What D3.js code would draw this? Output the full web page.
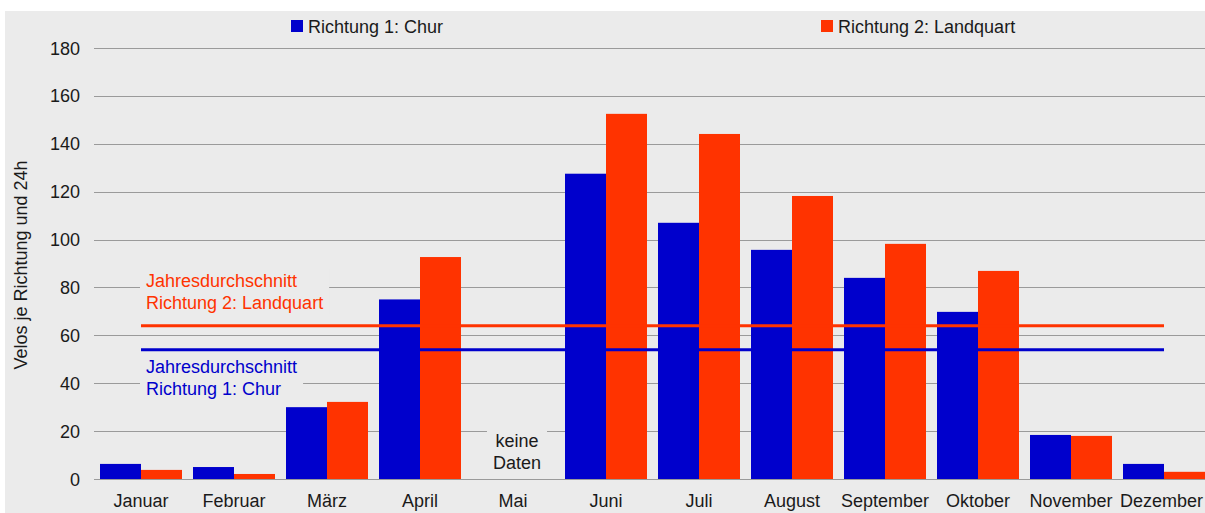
<!DOCTYPE html>
<html>
<head>
<meta charset="utf-8">
<script src="https://cdn.jsdelivr.net/npm/d3@7"></script>
<style>
	body { margin: 0; background: #fff; }
	text { font-family: 'Liberation Sans', Arial, sans-serif; font-size: 18px; }
</style>
</head>
<body>
<div id="wrapper"></div>
<script>
// Data
const months = ['Januar', 'Februar', 'März', 'April', 'Mai', 'Juni', 'Juli',
	'August', 'September', 'Oktober', 'November', 'Dezember']
const churValues = [6.3, 5, 30, 75, null, 127.5, 107, 95.7, 84, 69.8, 18.4, 6.3]
const landquartValues = [3.8, 2.1, 32.2, 92.7, null, 152.5, 144.1, 118.2, 98.2, 86.9, 18, 3]
const seriesNames = ['Richtung 1: Chur', 'Richtung 2: Landquart']
const averages = [54, 64]
const yTicks = [0, 20, 40, 60, 80, 100, 120, 140, 160, 180]

function drawChart() {
	const colors = ['#0000cc', '#ff3300']

	const dimensions = {
		width: 1205,
		height: 513,
		plotLeft: 94.5,
		plotRight: 1210.5,
		plotTop: 48,
		plotBottom: 479
	}

	const svg = d3.select('#wrapper')
		.append('svg')
			.attr('width', dimensions.width)
			.attr('height', dimensions.height)

	// grey panel
	svg.append('rect')
		.attr('x', 5)
		.attr('y', 11)
		.attr('width', dimensions.width - 5)
		.attr('height', dimensions.height - 11)
		.attr('fill', '#ebebeb')

	// Scales
	const yScale = d3.scaleLinear()
		.domain([0, 180])
		.range([dimensions.plotBottom, dimensions.plotTop])

	const xScale = d3.scaleBand()
		.domain(months)
		.range([dimensions.plotLeft, dimensions.plotRight])
		.paddingInner(11 / 93)
		.paddingOuter(5.5 / 93)

	const xInner = d3.scaleBand()
		.domain([0, 1])
		.range([0, xScale.bandwidth()])

	const rows = months.map((m, i) => ({ month: m, values: [churValues[i], landquartValues[i]] }))

	// Gridlines + y labels
	const grid = svg.append('g')
	grid.selectAll('line')
		.data(yTicks)
		.join('line')
			.attr('x1', 94)
			.attr('x2', dimensions.width)
			.attr('y1', d => Math.round(yScale(d)) + 0.5)
			.attr('y2', d => Math.round(yScale(d)) + 0.5)
			.attr('stroke', '#9a9a9a')
			.attr('stroke-width', 1)

	grid.selectAll('text')
		.data(yTicks)
		.join('text')
			.attr('x', 80)
			.attr('y', d => yScale(d) + 6.5)
			.attr('text-anchor', 'end')
			.attr('fill', '#1a1a1a')
			.text(d => d)

	// y axis title
	svg.append('text')
		.attr('transform', 'translate(27, 265) rotate(-90)')
		.attr('text-anchor', 'middle')
		.attr('fill', '#1a1a1a')
		.text('Velos je Richtung und 24h')

	// Bars
	const groups = svg.append('g')
		.selectAll('g')
		.data(rows)
		.join('g')
			.attr('transform', d => `translate(${xScale(d.month)}, 0)`)

	groups.selectAll('rect')
		.data(d => d.values.map((v, k) => ({ k, v })).filter(e => e.v != null))
		.join('rect')
			.attr('x', d => xInner(d.k))
			.attr('width', xInner.bandwidth())
			.attr('y', d => yScale(d.v))
			.attr('height', d => yScale(0) - yScale(d.v))
			.attr('fill', d => colors[d.k])

	// x labels (last one pulled in so it is not cut by the edge)
	const xLabels = svg.append('g')
		.selectAll('text')
		.data(months)
		.join('text')
			.attr('x', d => xScale(d) + xScale.bandwidth() / 2)
			.attr('y', 507)
			.attr('text-anchor', 'middle')
			.attr('fill', '#1a1a1a')
			.text(d => d)
	xLabels.each(function() {
		const bb = this.getBBox()
		const over = bb.x + bb.width - (dimensions.width - 2)
		if (over > 0) d3.select(this).attr('x', +d3.select(this).attr('x') - over)
	})

	// Annotations with panel-coloured boxes behind
	const notes = [
		{ lines: ['Jahresdurchschnitt', 'Richtung 2: Landquart'], x: 146, y: 286.5, anchor: 'start', color: colors[1] },
		{ lines: ['Jahresdurchschnitt', 'Richtung 1: Chur'], x: 146, y: 373, anchor: 'start', color: colors[0] },
		{ lines: ['keine', 'Daten'], x: 517, y: 447, anchor: 'middle', color: '#1a1a1a' }
	]

	notes.forEach(n => {
		const g = svg.append('g')
		const box = g.append('rect').attr('fill', '#ebebeb')
		const t = g.append('text')
			.attr('x', n.x)
			.attr('y', n.y)
			.attr('text-anchor', n.anchor)
			.attr('fill', n.color)
		n.lines.forEach((l, i) => {
			t.append('tspan')
				.attr('x', n.x)
				.attr('dy', i === 0 ? 0 : 22)
				.text(l)
		})
		const bb = t.node().getBBox()
		box.attr('x', bb.x - 6)
			.attr('y', bb.y - 2)
			.attr('width', bb.width + 12)
			.attr('height', bb.height + 4)
	})

	// Average lines
	const x0 = xScale(months[0]) + xScale.bandwidth() / 2
	const x1 = xScale(months[months.length - 1]) + xScale.bandwidth() / 2
	svg.append('g')
		.selectAll('line')
		.data(averages)
		.join('line')
			.attr('x1', x0)
			.attr('x2', x1)
			.attr('y1', d => yScale(d))
			.attr('y2', d => yScale(d))
			.attr('stroke', (d, i) => colors[i])
			.attr('stroke-width', 3)

	// Legend
	const legendX = [291, 821]
	const legend = svg.append('g')
		.selectAll('g')
		.data(seriesNames)
		.join('g')
			.attr('transform', (d, i) => `translate(${legendX[i]}, 20)`)
	legend.append('rect')
		.attr('width', 12)
		.attr('height', 12)
		.attr('fill', (d, i) => colors[i])
	legend.append('text')
		.attr('x', 17)
		.attr('y', 13)
		.attr('fill', '#1a1a1a')
		.text(d => d)
}
drawChart()
</script>
</body>
</html>
